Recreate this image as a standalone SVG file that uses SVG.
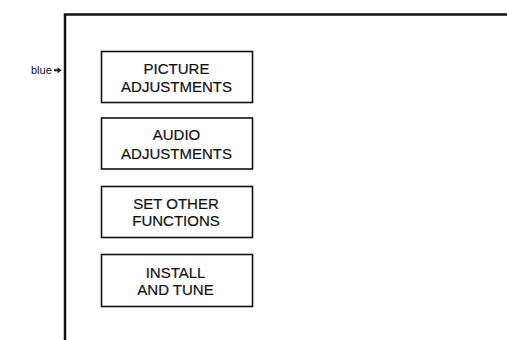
<svg xmlns="http://www.w3.org/2000/svg" width="507" height="340" viewBox="0 0 507 340">
<style>
.frame{fill:none;stroke:#111;stroke-width:2.5}
.box{fill:none;stroke:#111;stroke-width:1.6}
.lbl{font-family:"Liberation Sans",Arial,sans-serif;font-size:15px;fill:#111;text-anchor:middle;stroke:#111;stroke-width:0.2}
.side{font-family:"Liberation Sans",Arial,sans-serif;font-size:11px;fill:#111}
</style>
<rect width="507" height="340" fill="#fff"/>
<g id="frame">
<path class="frame" d="M65 340 V14.5 H507"/>
</g>
<g id="blue-label">
<text class="side" x="31" y="74">blue</text>
<path d="M54 69.3 H57.5 V67.3 L61.5 70.3 L57.5 73.3 V71.3 H54 Z" fill="#111"/>
</g>
<g id="connectors"></g>
<g id="picture-adjustments">
<rect class="box" x="101.5" y="51.5" width="151" height="51"/>
<text class="lbl" x="176.5" y="74">PICTURE</text>
<text class="lbl" x="176.5" y="92">ADJUSTMENTS</text>
</g>
<g id="audio-adjustments">
<rect class="box" x="101.5" y="118" width="151" height="51"/>
<text class="lbl" x="176.5" y="140">AUDIO</text>
<text class="lbl" x="176.5" y="158.5">ADJUSTMENTS</text>
</g>
<g id="set-other-functions">
<rect class="box" x="101.5" y="186.5" width="151" height="51"/>
<text class="lbl" x="176" y="209">SET OTHER</text>
<text class="lbl" x="176" y="226">FUNCTIONS</text>
</g>
<g id="install-and-tune">
<rect class="box" x="101.5" y="254.5" width="151" height="52"/>
<text class="lbl" x="175.5" y="278">INSTALL</text>
<text class="lbl" x="175.5" y="295">AND TUNE</text>
</g>
</svg>
